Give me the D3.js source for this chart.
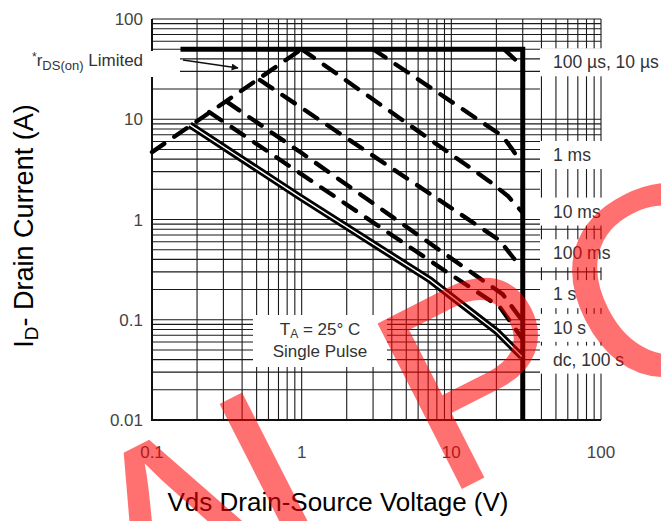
<!DOCTYPE html>
<html>
<head>
<meta charset="utf-8">
<script src="https://cdn.jsdelivr.net/npm/d3@7"></script>
<style>
  body { margin: 0; background: #fff; }
  text { font-family: "Liberation Sans", Arial, sans-serif; }
</style>
</head>
<body>
<svg id="chart" width="661" height="521"></svg>
<script>
// ---- data (Vds in V, Id in A) ----
const xTickValues = [0.1, 1, 10, 100];
const xTickLabels = ["0.1", "1", "10", "100"];
const yTickValues = [0.01, 0.1, 1, 10, 100];
const yTickLabels = ["0.01", "0.1", "1", "10", "100"];

const rdsLimited = [[0.1, 4.7], [1.0, 50]];
const curve10us  = [[0.155, 50], [30, 50], [30, 0.01]];
const curve100us = [[22.5, 50], [29.6, 34]];
const curve1ms   = [[3.0, 50], [22, 6.8], [25.8, 4.9], [28.5, 3.9]];
const curve10ms  = [[1.0, 50], [18, 2.4], [24, 1.7], [29.5, 1.2]];
const curve100ms = [[0.526, 24.6], [21, 0.62], [25.8, 0.42], [29.5, 0.33]];
const curve1s    = [[0.317, 14.9], [1, 4.6], [11, 0.37], [22, 0.18], [29.5, 0.1]];
const curve10s   = [[0.241, 11.8], [9, 0.31], [21, 0.135], [29.5, 0.066]];
const curveDc    = [[0.179, 8.8], [0.97, 1.68], [7.2, 0.25], [20.2, 0.076], [29.5, 0.043]];

const curveLabels  = ["100 \u00b5s, 10 \u00b5s", "1 ms", "10 ms", "100 ms", "1 s", "10 s", "dc, 100 s"];
const curveLabelAt = [37, 4.4, 1.2, 0.46, 0.18, 0.083, 0.04];

// horizontal grid rows that run all the way to 100 V (others stop at 40 V)
const fullRows = [7, 8, 9, 10, 0.8, 0.3];

// watermark letters and their offsets along the slanted baseline
const markLetters = ["A", "I", "P", "C"];
const markShift   = [0, -21, 105, 15];

const svg = d3.select("#chart");

const x = d3.scaleLog().domain([0.1, 100]).range([152, 601]);
const y = d3.scaleLog().domain([0.01, 100]).range([420, 19]);

const grid = svg.append("g").attr("stroke", "#1a1a1a").attr("stroke-width", 1.1);

// vertical grid lines
grid.selectAll(".vline")
  .data(x.ticks())
  .join("line")
    .attr("class", "vline")
    .attr("x1", d => x(d)).attr("x2", d => x(d))
    .attr("y1", y(100)).attr("y2", y(0.01));

// horizontal grid lines
grid.selectAll(".hline")
  .data(y.ticks())
  .join("line")
    .attr("class", "hline")
    .attr("x1", x(0.1))
    .attr("x2", d => (d >= 50 || fullRows.some(v => Math.abs(v - d) < 1e-9)) ? x(100) : 540)
    .attr("y1", d => y(d)).attr("y2", d => y(d));

// heavier frame on left and bottom
svg.append("path")
    .attr("d", `M${x(0.1)},${y(100)}V${y(0.01)}H${x(100)}`)
    .attr("fill", "none").attr("stroke", "#111").attr("stroke-width", 2);

// white boxes behind the annotations
const white = svg.append("g").attr("fill", "#fff");
white.append("rect").attr("x", 0).attr("y", 51).attr("width", 180).attr("height", 26);
white.append("rect").attr("x", 253).attr("y", 315).attr("width", 134).attr("height", 52);
white.selectAll(".lblbox")
  .data(curveLabelAt)
  .join("rect")
    .attr("class", "lblbox")
    .attr("x", 540).attr("width", 121)
    .attr("y", d => y(d) - 14).attr("height", 28);

// curves
const line = d3.line().x(d => x(d[0])).y(d => y(d[1]));

const dashed = [rdsLimited, curve100us, curve1ms, curve10ms, curve100ms, curve1s, curve10s];
svg.append("g").selectAll("path")
  .data(dashed)
  .join("path")
    .attr("d", line)
    .attr("fill", "none")
    .attr("stroke", "#000")
    .attr("stroke-width", 4.3)
    .attr("stroke-linecap", "round")
    .attr("stroke-dasharray", "15,12");

svg.append("path")
    .attr("d", line(curve10us))
    .attr("fill", "none").attr("stroke", "#000").attr("stroke-width", 5);

// dc curve drawn as a double line
svg.append("path")
    .attr("d", line(curveDc))
    .attr("fill", "none").attr("stroke", "#000").attr("stroke-width", 7);
svg.append("path")
    .attr("d", line(curveDc))
    .attr("fill", "none").attr("stroke", "#fff").attr("stroke-width", 1.4);

// tick labels
svg.append("g").selectAll("text")
  .data(yTickValues)
  .join("text")
    .attr("x", 143)
    .attr("y", d => y(d) + 6)
    .attr("text-anchor", "end")
    .attr("font-size", 17)
    .attr("fill", "#444")
    .text((d, i) => yTickLabels[i]);

svg.append("g").selectAll("text")
  .data(xTickValues)
  .join("text")
    .attr("x", d => x(d))
    .attr("y", 458)
    .attr("text-anchor", "middle")
    .attr("font-size", 17)
    .attr("fill", "#444")
    .text((d, i) => xTickLabels[i]);

// curve labels
svg.append("g").selectAll("text")
  .data(curveLabels)
  .join("text")
    .attr("x", 553)
    .attr("y", (d, i) => y(curveLabelAt[i]) + 6)
    .attr("font-size", 17.5)
    .attr("fill", "#333")
    .text(d => d);

// rDS(on) note + arrow
const note = svg.append("text")
    .attr("x", 32).attr("y", 66)
    .attr("font-size", 17).attr("fill", "#333");
note.append("tspan").attr("font-size", 12).attr("dy", -5).text("*");
note.append("tspan").attr("dy", 5).text("r");
note.append("tspan").attr("font-size", 13).attr("dy", 4).text("DS(on)");
note.append("tspan").attr("dy", -4).text(" Limited");

svg.append("defs").append("marker")
    .attr("id", "arr").attr("viewBox", "0 0 10 10")
    .attr("refX", 9).attr("refY", 5)
    .attr("markerWidth", 9).attr("markerHeight", 7)
    .attr("markerUnits", "userSpaceOnUse")
    .attr("orient", "auto")
  .append("path").attr("d", "M0,0L10,5L0,10z").attr("fill", "#111");
svg.append("line")
    .attr("x1", 183).attr("y1", 60).attr("x2", 238).attr("y2", 68)
    .attr("stroke", "#111").attr("stroke-width", 1.3)
    .attr("marker-end", "url(#arr)");

// TA note
const ta = svg.append("text")
    .attr("x", 320).attr("y", 335)
    .attr("text-anchor", "middle")
    .attr("font-size", 17).attr("fill", "#333");
ta.append("tspan").text("T");
ta.append("tspan").attr("font-size", 12).attr("dy", 3).text("A");
ta.append("tspan").attr("dy", -3).text(" = 25\u00b0 C");
svg.append("text")
    .attr("x", 320).attr("y", 357)
    .attr("text-anchor", "middle")
    .attr("font-size", 17).attr("fill", "#333")
    .text("Single Pulse");

// axis titles
const yt = svg.append("text")
    .attr("transform", "translate(33,226) rotate(-90)")
    .attr("text-anchor", "middle")
    .attr("font-size", 27).attr("fill", "#000");
yt.append("tspan").text("I");
yt.append("tspan").attr("font-size", 19).attr("dy", 5).text("D");
yt.append("tspan").attr("dy", -5).text("- Drain Current (A)");

svg.append("text")
    .attr("x", 338).attr("y", 511)
    .attr("text-anchor", "middle")
    .attr("font-size", 26).attr("fill", "#000")
    .text("Vds Drain-Source Voltage (V)");

// red watermark
const mark = svg.append("text")
    .attr("transform", "translate(140,653) rotate(-27)")
    .attr("font-size", 270)
    .attr("fill", "#ff0000")
    .attr("fill-opacity", 0.56);
mark.selectAll("tspan")
  .data(markLetters)
  .join("tspan")
    .attr("dx", (d, i) => markShift[i])
    .text(d => d);
</script>
</body>
</html>
